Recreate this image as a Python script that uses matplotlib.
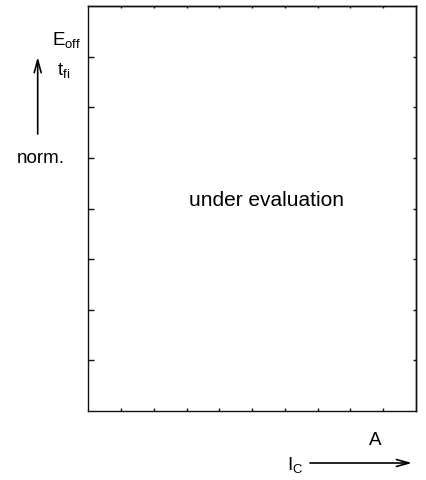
import matplotlib
matplotlib.use("Agg")
import matplotlib.pyplot as plt
import numpy as np

plt.rcParams['font.family'] = ['Liberation Sans', 'DejaVu Sans']
plt.rcParams['mathtext.fontset'] = 'custom'
plt.rcParams['mathtext.rm'] = 'Liberation Sans'
plt.rcParams['mathtext.it'] = 'Liberation Sans'
plt.rcParams['mathtext.bf'] = 'Liberation Sans:bold'

# chart content (no data, only an empty frame)
x_limits = [0, 10]
y_limits = [0, 8]
x_tick_values = [1, 2, 3, 4, 5, 6, 7, 8, 9]
y_tick_values = [1, 2, 3, 4, 5, 6, 7]
center_text = "under evaluation"
y_label_top = r"$\mathregular{E_{off}}$"
y_label_mid = r"$\mathregular{t_{fi}}$"
y_label_unit = "norm."
x_label_unit = "A"
x_label = r"$\mathregular{I_C}$"

W, H = 427, 481
fig = plt.figure(figsize=(W / 100, H / 100), dpi=100)

def fx(px):
    return px / W

def fy(py):
    return 1 - py / H

left, right, top, bottom = 88.3, 416.0, 7.0, 412.0
ax = fig.add_axes([fx(left), fy(bottom), fx(right) - fx(left), fy(top) - fy(bottom)])
ax.set_xlim(x_limits)
ax.set_ylim(y_limits)
ax.set_xticks(x_tick_values)
ax.set_yticks(y_tick_values)
ax.set_xticklabels([])
ax.set_yticklabels([])
for s in ax.spines.values():
    s.set_linewidth(1.0)
    s.set_color('#111111')
ax.tick_params(axis='x', which='both', direction='in', length=2.4, width=1.0,
               bottom=True, top=False, colors='#111111')
ax.tick_params(axis='y', which='both', direction='in', length=4.2, width=1.0,
               left=True, right=False, colors='#111111')

secx = ax.secondary_xaxis('top')
secx.set_xticks(x_tick_values)
secx.set_xticklabels([])
secx.tick_params(direction='in', length=1.5, width=1.0, colors='#111111')
secx.spines['top'].set_linewidth(1.0)
secy = ax.secondary_yaxis('right')
secy.set_yticks(y_tick_values)
secy.set_yticklabels([])
secy.tick_params(direction='in', length=2.4, width=1.0, colors='#111111')
secy.spines['right'].set_linewidth(1.0)

ax.text(0.545, 0.523, center_text, transform=ax.transAxes, ha='center', va='center',
        fontsize=15, color='#000000')

fs = 13.5
fig.text(fx(52), fy(45), y_label_top, ha='left', va='baseline', fontsize=fs, color='#000000')
fig.text(fx(57), fy(75), y_label_mid, ha='left', va='baseline', fontsize=fs, color='#000000')
fig.text(fx(41), fy(163), y_label_unit, ha='center', va='baseline', fontsize=fs, color='#000000')
fig.text(fx(375.5), fy(445), x_label_unit, ha='center', va='baseline', fontsize=fs, color='#000000')
fig.text(fx(287), fy(470), x_label, ha='left', va='baseline', fontsize=fs, color='#000000')

fig.patches.append(matplotlib.patches.FancyArrowPatch(
    (fx(37.7), fy(135)), (fx(37.7), fy(58)), transform=fig.transFigure,
    arrowstyle='->,head_length=9,head_width=2.5', lw=1.2, color='#000000',
    shrinkA=0, shrinkB=0))
fig.patches.append(matplotlib.patches.FancyArrowPatch(
    (fx(310), fy(464)), (fx(412), fy(464)), transform=fig.transFigure,
    arrowstyle='->,head_length=9,head_width=2.5', lw=1.2, color='#000000',
    shrinkA=0, shrinkB=0))

fig.savefig('out.png', dpi=100)
